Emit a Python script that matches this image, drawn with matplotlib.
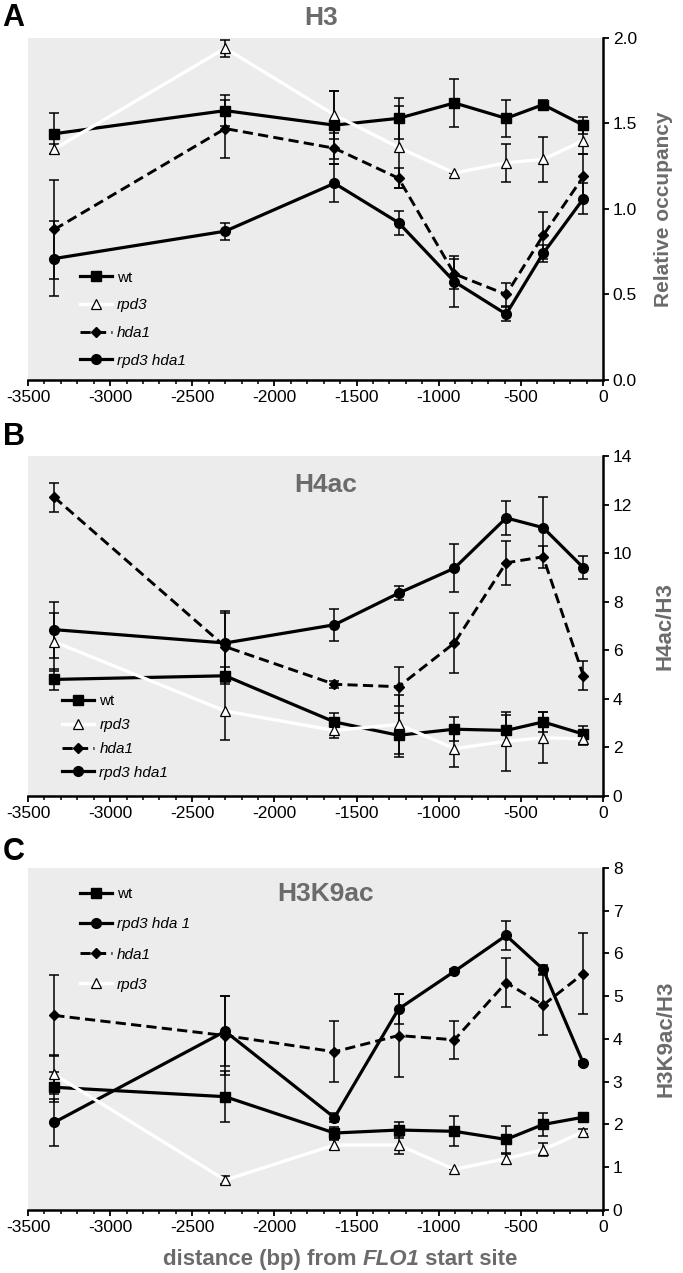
import matplotlib
matplotlib.use("Agg")
import matplotlib.pyplot as plt
from matplotlib.ticker import MultipleLocator

plt.rcParams['font.family'] = ['Liberation Sans', 'DejaVu Sans']
plt.rcParams['axes.unicode_minus'] = False

# positions (bp from FLO1 start site)
x = [-3340, -2300, -1635, -1245, -905, -590, -365, -120]

# panel A: H3, relative occupancy
h3_wt = [1.44, 1.575, 1.49, 1.53, 1.62, 1.53, 1.61, 1.49]
h3_wt_err = [0.12, 0.09, 0.2, 0.12, 0.14, 0.11, 0.03, 0.05]
h3_rpd3 = [1.35, 1.94, 1.55, 1.36, 1.21, 1.27, 1.29, 1.40]
h3_rpd3_err = [0.03, 0.05, 0.14, 0.24, 0.0, 0.11, 0.13, 0.08]
h3_hda1 = [0.88, 1.47, 1.355, 1.18, 0.62, 0.50, 0.845, 1.19]
h3_hda1_err = [0.29, 0.17, 0.09, 0.06, 0.09, 0.07, 0.14, 0.13]
h3_dbl = [0.71, 0.87, 1.15, 0.92, 0.575, 0.385, 0.74, 1.06]
h3_dbl_err = [0.22, 0.05, 0.11, 0.07, 0.15, 0.04, 0.05, 0.09]

# panel B: H4ac/H3
h4_wt = [4.8, 4.95, 3.05, 2.5, 2.75, 2.7, 3.05, 2.55]
h4_wt_err = [0.45, 0.35, 0.35, 0.9, 0.5, 0.65, 0.4, 0.35]
h4_rpd3 = [6.35, 3.5, 2.7, 2.95, 1.95, 2.25, 2.4, 2.35]
h4_rpd3_err = [1.2, 1.2, 0.3, 1.2, 0.75, 1.2, 1.05, 0.25]
h4_hda1 = [12.3, 6.15, 4.6, 4.5, 6.3, 9.6, 9.85, 4.95]
h4_hda1_err = [0.6, 1.4, 0.15, 0.8, 1.25, 0.9, 0.45, 0.6]
h4_dbl = [6.85, 6.3, 7.05, 8.35, 9.38, 11.45, 11.05, 9.4]
h4_dbl_err = [1.15, 1.3, 0.65, 0.3, 1.0, 0.7, 1.25, 0.48]

# panel C: H3K9ac/H3
k9_wt = [2.87, 2.65, 1.8, 1.87, 1.84, 1.65, 2.0, 2.17]
k9_wt_err = [0.35, 0.6, 0.15, 0.18, 0.35, 0.32, 0.27, 0.05]
k9_dbl = [2.05, 4.18, 2.16, 4.7, 5.58, 6.42, 5.63, 3.43]
k9_dbl_err = [0.55, 0.82, 0.1, 0.35, 0.05, 0.33, 0.1, 0.05]
k9_hda1 = [4.55, 4.08, 3.7, 4.08, 3.98, 5.32, 4.79, 5.53]
k9_hda1_err = [0.95, 0.92, 0.71, 0.96, 0.45, 0.57, 0.7, 0.94]
k9_rpd3 = [3.17, 0.7, 1.52, 1.52, 0.95, 1.2, 1.41, 1.83]
k9_rpd3_err = [0.45, 0.1, 0.12, 0.22, 0.0, 0.12, 0.15, 0.06]

GRAY = '#6b6b6b'
BG = '#ececec'

styles = {
    'wt': dict(color='black', lw=2.3, ls='-', marker='s', ms=7, mfc='black', mec='black'),
    'rpd3': dict(color='white', lw=2.4, ls='-', marker='^', ms=7, mfc='white', mec='black', mew=0.9),
    'hda1': dict(color='black', lw=2.1, ls=(0, (3.5, 1.8)), marker='D', ms=5, mfc='black', mec='black'),
    'dbl': dict(color='black', lw=2.3, ls='-', marker='o', ms=7, mfc='black', mec='black'),
}


def draw_series(ax, key, y, err, label):
    ax.errorbar(x, y, yerr=err, fmt='none', ecolor='black', elinewidth=1.1,
                capsize=3.5, capthick=1.1, zorder=2)
    line, = ax.plot(x, y, label=label, zorder=3, **styles[key])
    return line


def setup_axes(ax, ymax, ystep, fmt):
    ax.set_facecolor(BG)
    ax.set_xlim(-3500, 0)
    ax.set_ylim(0, ymax)
    for s in ['left', 'top']:
        ax.spines[s].set_visible(False)
    for s in ['right', 'bottom']:
        ax.spines[s].set_linewidth(1.8)
    ax.yaxis.tick_right()
    ax.yaxis.set_label_position('right')
    ax.xaxis.set_major_locator(MultipleLocator(500))
    ax.xaxis.set_minor_locator(MultipleLocator(100))
    ax.yaxis.set_major_locator(MultipleLocator(ystep))
    ax.tick_params(axis='x', which='major', length=4, width=1.3, labelsize=12.5, pad=3)
    ax.tick_params(axis='x', which='minor', length=3, width=1.1)
    ax.tick_params(axis='y', which='major', length=4, width=1.3, labelsize=12.5, pad=3)
    ax.yaxis.set_major_formatter(fmt)


def make_legend(ax, handles, labels, anchor, spacing):
    leg = ax.legend(handles, labels, loc='upper left', bbox_to_anchor=anchor,
                    frameon=False, fontsize=11, handlelength=2.1, handletextpad=0.35,
                    labelspacing=spacing, borderpad=0, borderaxespad=0)
    for t in leg.get_texts():
        if t.get_text() != 'wt':
            t.set_style('italic')
    return leg


fig = plt.figure(figsize=(6.83, 12.73), dpi=100)
left, width = 0.041, 0.842
axA = fig.add_axes([left, 0.7015, width, 0.2687])
axB = fig.add_axes([left, 0.3747, width, 0.2671])
axC = fig.add_axes([left, 0.0495, width, 0.2687])

# panel A
setup_axes(axA, 2.0, 0.5, '{x:.1f}')
l1 = draw_series(axA, 'wt', h3_wt, h3_wt_err, 'wt')
l2 = draw_series(axA, 'rpd3', h3_rpd3, h3_rpd3_err, 'rpd3')
l3 = draw_series(axA, 'hda1', h3_hda1, h3_hda1_err, 'hda1')
l4 = draw_series(axA, 'dbl', h3_dbl, h3_dbl_err, 'rpd3 hda1')
make_legend(axA, [l1, l2, l3, l4], ['wt', 'rpd3', 'hda1', 'rpd3 hda1'], (0.09, 0.32), 0.9)
axA.set_ylabel('Relative occupancy', color=GRAY, fontsize=15, fontweight='bold', labelpad=12)
axA.text(0.51, 1.058, 'H3', transform=axA.transAxes, ha='center', va='center',
         fontsize=19, fontweight='bold', color=GRAY)

# panel B
setup_axes(axB, 14, 2, '{x:.0f}')
l1 = draw_series(axB, 'wt', h4_wt, h4_wt_err, 'wt')
l2 = draw_series(axB, 'rpd3', h4_rpd3, h4_rpd3_err, 'rpd3')
l3 = draw_series(axB, 'hda1', h4_hda1, h4_hda1_err, 'hda1')
l4 = draw_series(axB, 'dbl', h4_dbl, h4_dbl_err, 'rpd3 hda1')
make_legend(axB, [l1, l2, l3, l4], ['wt', 'rpd3', 'hda1', 'rpd3 hda1'], (0.059, 0.30), 0.65)
axB.set_ylabel('H4ac/H3', color=GRAY, fontsize=16, fontweight='bold', labelpad=16)
axB.text(0.518, 0.915, 'H4ac', transform=axB.transAxes, ha='center', va='center',
         fontsize=19, fontweight='bold', color=GRAY)

# panel C
setup_axes(axC, 8, 1, '{x:.0f}')
l1 = draw_series(axC, 'wt', k9_wt, k9_wt_err, 'wt')
l4 = draw_series(axC, 'dbl', k9_dbl, k9_dbl_err, 'rpd3 hda 1')
l3 = draw_series(axC, 'hda1', k9_hda1, k9_hda1_err, 'hda1')
l2 = draw_series(axC, 'rpd3', k9_rpd3, k9_rpd3_err, 'rpd3')
make_legend(axC, [l1, l4, l3, l2], ['wt', 'rpd3 hda 1', 'hda1', 'rpd3'], (0.09, 0.943), 1.05)
axC.set_ylabel('H3K9ac/H3', color=GRAY, fontsize=16, fontweight='bold', labelpad=24)
axC.text(0.518, 0.924, 'H3K9ac', transform=axC.transAxes, ha='center', va='center',
         fontsize=19, fontweight='bold', color=GRAY)

# x label with italic gene name, built from three pieces
fig.canvas.draw()
renderer = fig.canvas.get_renderer()
parts = [('distance (bp) from ', 'normal'), ('FLO1', 'italic'), (' start site', 'normal')]
texts = []
for s, st in parts:
    t = fig.text(0, 0.0105, s, fontsize=16, fontweight='bold', style=st, color=GRAY,
                 va='center', ha='left')
    texts.append(t)
widths = [t.get_window_extent(renderer).width for t in texts]
total = sum(widths)
xc = 340 / 683 * fig.bbox.width
xpos = xc - total / 2
for t, w in zip(texts, widths):
    t.set_x(xpos / fig.bbox.width)
    xpos += w

# panel letters
fig.text(0.004, 0.986, 'A', fontsize=22, fontweight='bold', va='center')
fig.text(0.004, 0.657, 'B', fontsize=22, fontweight='bold', va='center')
fig.text(0.004, 0.331, 'C', fontsize=22, fontweight='bold', va='center')

fig.savefig('out.png', dpi=100)
